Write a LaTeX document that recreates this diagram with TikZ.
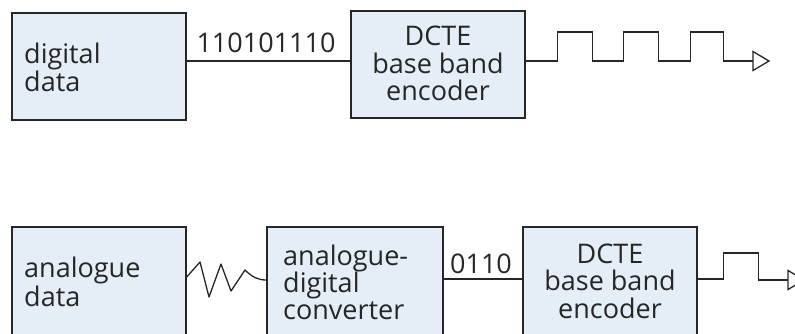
\documentclass[tikz,border=0pt]{standalone}
\usepackage{fontspec}
\setmainfont{Open Sans}
\definecolor{boxfill}{HTML}{E5EDF6}
\definecolor{ink}{HTML}{262626}
\newcommand\bigtxt{\fontsize{27pt}{28pt}\selectfont}
\begin{document}
\begin{tikzpicture}[x=1pt,y=-1pt,
  box/.style={draw=ink, fill=boxfill, line width=1.4pt, inner sep=0pt, rectangle},
  txt/.style={font=\bigtxt, text=ink, inner sep=0pt},
  wire/.style={draw=ink, line width=1.3pt},
  headtri/.style={draw=ink, fill=white, line width=1.3pt, line join=miter}]
\useasboundingbox (0,0) rectangle (795,333);
\clip (0,0) rectangle (795,333);
% top row
\node[box, minimum width=174pt, minimum height=107pt] (dd) at (99,66.5) {};
\node[box, minimum width=174pt, minimum height=107pt] (enc1) at (438,64.5) {};
\node[txt, anchor=base west] (dd1) at (24,63) {digital};
\node[txt, anchor=base west] (dd2) at (24,91) {data};
\node[txt, anchor=base] (e11) at (438,45) {DCTE};
\node[txt, anchor=base] (e12) at (438,73) {base band};
\node[txt, anchor=base] (e13) at (438,100) {encoder};
\coordinate (l1) at (0,61);
\coordinate (h1) at (753,61);
\draw[wire] (dd.east |- l1) -- node[txt, anchor=base, yshift=9pt, xshift=-2.5pt] (bits1) {110101110} (enc1.west |- l1);
\draw[wire, line join=miter] (enc1.east |- l1) -- ++(32,0) -- ++(0,-29) -- ++(35,0) -- ++(0,29)
  -- ++(31,0) -- ++(0,-29) -- ++(35,0) -- ++(0,29)
  -- ++(32,0) -- ++(0,-29) -- ++(33,0) -- ++(0,29) -- (h1);
\draw[headtri] (h1) -- ++(0,-9.5) -- ++(16,9.5) -- ++(-16,9.5) -- cycle;
% bottom row
\node[box, minimum width=174pt, minimum height=112pt] (ad) at (99,283) {};
\node[box, minimum width=176pt, minimum height=112pt] (adc) at (355,283) {};
\node[box, minimum width=174pt, minimum height=112pt] (enc2) at (610,283) {};
\node[txt, anchor=base west] (ad1) at (24,277) {analogue};
\node[txt, anchor=base west] (ad2) at (24,306) {data};
\node[txt, anchor=base west] (adc1) at (283,265) {analogue-};
\node[txt, anchor=base west] (adc2) at (283,292) {digital};
\node[txt, anchor=base west] (adc3) at (283,319) {converter};
\node[txt, anchor=base] (e21) at (610,263) {DCTE};
\node[txt, anchor=base] (e22) at (610,290) {base band};
\node[txt, anchor=base] (e23) at (610,318) {encoder};
\coordinate (z0) at (0,277);
\coordinate (z1) at (0,280);
\coordinate (l2) at (0,279);
\coordinate (h2) at (788,280);
\draw[wire, line join=round] (ad.east |- z0) -- (200,262) -- (209,297) -- (221,264) -- (231,291) -- (245,270)
  .. controls (252,277) and (258,280) .. (adc.west |- z1);
\draw[wire] (adc.east |- l2) -- node[txt, anchor=base, yshift=6pt, xshift=-2pt] (bits2) {0110} (enc2.west |- l2);
\draw[wire, line join=miter] (enc2.east |- l2) -- ++(26,0) -- ++(0,-26) -- ++(35,0) -- ++(0,27) -- (h2);
\draw[headtri] (h2) -- ++(0,-9.5) -- ++(16,9.5) -- ++(-16,9.5) -- cycle;
\end{tikzpicture}
\end{document}
